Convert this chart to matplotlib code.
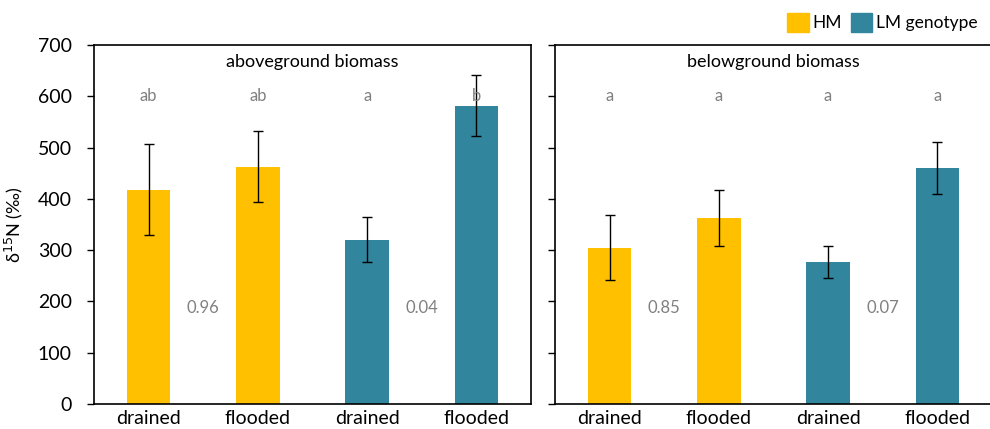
import matplotlib
matplotlib.use("Agg")
import matplotlib.pyplot as plt
from matplotlib.patches import Patch

plt.rcParams['font.family'] = ['Lato', 'DejaVu Sans']

# data
treatments = ["drained", "flooded", "drained", "flooded"]
genotype = ["HM", "HM", "LM", "LM"]

above_mean = [418, 463, 320, 582]
above_err = [88, 70, 44, 59]
above_letters = ["ab", "ab", "a", "b"]
above_p = ["0.96", "0.04"]

below_mean = [305, 363, 277, 460]
below_err = [63, 54, 32, 51]
below_letters = ["a", "a", "a", "a"]
below_p = ["0.85", "0.07"]

colors = {"HM": "#FFC000", "LM": "#31859C"}
grey = "#808080"

fig = plt.figure(figsize=(9.9, 4.29), dpi=100)
W, H = 990, 429
ax1 = fig.add_axes([94 / W, 1 - 404 / H, 437 / W, 359 / H])
ax2 = fig.add_axes([555 / W, 1 - 404 / H, 437 / W, 359 / H])


def draw_panel(ax, means, errs, letters, pvals, title, show_labels):
    x = range(len(means))
    ax.bar(x, means, width=0.4, color=[colors[g] for g in genotype], zorder=2)
    ax.errorbar(x, means, yerr=errs, fmt="none", ecolor="black",
                elinewidth=1, capsize=3.5, capthick=1, zorder=3)
    for i, lab in enumerate(letters):
        ax.text(i, 600, lab, ha="center", va="center", fontsize=12, color=grey)
    ax.text(0.5, 187, pvals[0], ha="center", va="center", fontsize=12, color=grey)
    ax.text(2.5, 187, pvals[1], ha="center", va="center", fontsize=12, color=grey)
    ax.text(1.5, 667, title, ha="center", va="center", fontsize=13, color="black")
    ax.set_xlim(-0.5, 3.5)
    ax.set_ylim(0, 700)
    ax.set_yticks(range(0, 701, 100))
    ax.set_xticks(list(x))
    ax.set_xticklabels(treatments, fontsize=14)
    ax.tick_params(axis="x", length=0, pad=4)
    ax.tick_params(axis="y", direction="out", length=5, width=1,
                   labelsize=14, pad=11)
    if not show_labels:
        ax.tick_params(axis="y", labelleft=False)
    for s in ax.spines.values():
        s.set_linewidth(1.2)


draw_panel(ax1, above_mean, above_err, above_letters, above_p,
           "aboveground biomass", True)
draw_panel(ax2, below_mean, below_err, below_letters, below_p,
           "belowground biomass", False)

ax1.set_ylabel(r"δ$^{15}$N (‰)", fontsize=13, labelpad=9)

handles = [Patch(color=colors["HM"], label="HM"),
           Patch(color=colors["LM"], label="LM genotype")]
fig.legend(handles=handles, loc="upper right", bbox_to_anchor=(1.003, 1.005),
           ncol=2, frameon=False, fontsize=12.5, handlelength=1.25,
           handleheight=1.25, handletextpad=0.2, columnspacing=0.5)

fig.savefig("out.png", dpi=100)
